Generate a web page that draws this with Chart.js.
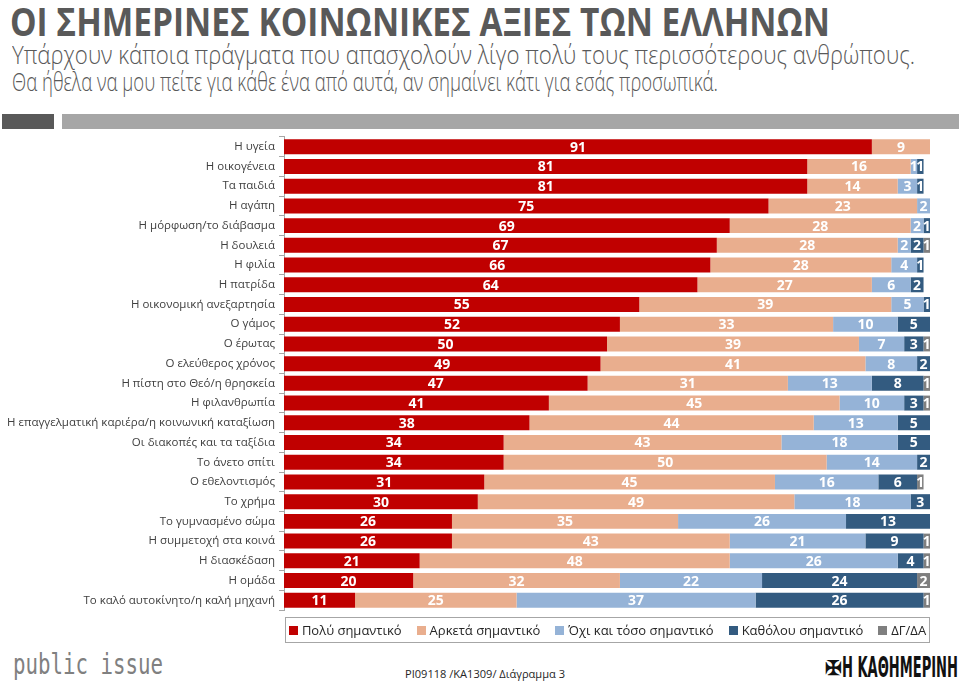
<!DOCTYPE html>
<html>
<head>
<meta charset="utf-8">
<script src="https://cdn.jsdelivr.net/npm/chart.js@4.4.0/dist/chart.umd.min.js"></script>
<style>
  html, body { margin:0; padding:0; }
  body { width:960px; height:684px; background:#fff; position:relative; overflow:hidden; font-family:"Open Sans", "Noto Sans", sans-serif; }
  .fit { position:absolute; white-space:nowrap; transform-origin:0 0; line-height:1; }
  #title { left:10px; top:1px; font-size:39px; font-weight:bold; color:#595959; }
  #sub1 { left:12px; top:41px; font-size:26px; font-weight:300; color:#595959; }
  #sub2 { left:12px; top:68px; font-size:26px; font-weight:300; color:#595959; }
  #barDark { position:absolute; left:2px; top:114px; width:52px; height:15px; background:#595959; }
  #barLight { position:absolute; left:62px; top:114px; width:897px; height:15px; background:#A6A6A6; }
  #chartWrap { position:absolute; left:0; top:125.5px; width:960px; height:495px; }
  #chartWrap canvas { display:block; }
  #legend { position:absolute; left:285px; top:617px; width:645px; height:26px; border:1px solid #A6A6A6; box-sizing:border-box;
            display:flex; align-items:center; justify-content:center; gap:15px; font-size:13px; color:#262626; }
  #legend .it { display:flex; align-items:center; white-space:nowrap; }
  #legend .sw { width:9px; height:9px; margin-right:4px; display:inline-block; }
  #pi { left:13px; top:651px; font-size:28px; color:#808080; font-family:"DejaVu Sans Mono","Liberation Mono",monospace; }
  #code { left:405px; top:668px; font-size:11.5px; color:#262626; }
  #kath { left:842px; top:654px; font-size:28px; color:#111; font-weight:bold; font-family:"Liberation Sans Narrow","DejaVu Sans Condensed","Liberation Sans",sans-serif; }
  #emb { position:absolute; left:825px; top:658px; font-size:20px; color:#111; line-height:1; font-weight:bold; }
</style>
</head>
<body>
<div id="title" class="fit" data-w="820">ΟΙ ΣΗΜΕΡΙΝΕΣ ΚΟΙΝΩΝΙΚΕΣ ΑΞΙΕΣ ΤΩΝ ΕΛΛΗΝΩΝ</div>
<div id="sub1" class="fit" data-w="903">Υπάρχουν κάποια πράγματα που απασχολούν λίγο πολύ τους περισσότερους ανθρώπους.</div>
<div id="sub2" class="fit" data-w="706">Θα ήθελα να μου πείτε για κάθε ένα από αυτά, αν σημαίνει κάτι για εσάς προσωπικά.</div>
<div id="barDark"></div>
<div id="barLight"></div>
<div id="chartWrap"><canvas id="c" width="960" height="495"></canvas></div>
<div id="legend"></div>
<div id="pi" class="fit" data-w="150">public issue</div>
<div id="code" class="fit" data-w="160">PI09118 /KA1309/ Διάγραμμα 3</div>
<div id="emb">✠</div>
<div id="kath" class="fit" data-w="116">Η ΚΑΘΗΜΕΡΙΝΗ</div>
<script>
const categories = [
  'Η υγεία','Η οικογένεια','Τα παιδιά','Η αγάπη','Η μόρφωση/το διάβασμα','Η δουλειά','Η φιλία','Η πατρίδα',
  'Η οικονομική ανεξαρτησία','Ο γάμος','Ο έρωτας','Ο ελεύθερος χρόνος','Η πίστη στο Θεό/η θρησκεία','Η φιλανθρωπία',
  'Η επαγγελματική καριέρα/η κοινωνική καταξίωση','Οι διακοπές και τα ταξίδια','Το άνετο σπίτι','Ο εθελοντισμός',
  'Το χρήμα','Το γυμνασμένο σώμα','Η συμμετοχή στα κοινά','Η διασκέδαση','Η ομάδα','Το καλό αυτοκίνητο/η καλή μηχανή'
];
const seriesNames = ['Πολύ σημαντικό','Αρκετά σημαντικό','Όχι και τόσο σημαντικό','Καθόλου σημαντικό','ΔΓ/ΔΑ'];
const veryImportant  = [91,81,81,75,69,67,66,64,55,52,50,49,47,41,38,34,34,31,30,26,26,21,20,11];
const quiteImportant = [ 9,16,14,23,28,28,28,27,39,33,39,41,31,45,44,43,50,45,49,35,43,48,32,25];
const notSoImportant = [ 0, 1, 3, 2, 2, 2, 4, 6, 5,10, 7, 8,13,10,13,18,14,16,18,26,21,26,22,37];
const notAtAll       = [ 0, 1, 1, 1, 1, 2, 1, 2, 1, 5, 3, 2, 8, 3, 5, 5, 2, 6, 3,13, 9, 4,24,26];
const dkna           = [ 0, 0, 0, 0, 0, 1, 0, 0, 0, 0, 1, 0, 1, 1, 0, 0, 0, 1, 0, 0, 1, 1, 2, 1];
const seriesColors = ['#C00000','#E9AE8E','#95B3D7','#335B80','#7F7F7F'];

const allSeries = [veryImportant, quiteImportant, notSoImportant, notAtAll, dkna];

// fit text widths
document.querySelectorAll('.fit').forEach(el => {
  const w = parseFloat(el.dataset.w);
  const a = el.getBoundingClientRect().width;
  if (a > 0) el.style.transform = 'scaleX(' + (w / a) + ')';
});

// legend
const lg = document.getElementById('legend');
seriesNames.forEach((n, i) => {
  const it = document.createElement('span'); it.className = 'it';
  const sw = document.createElement('span'); sw.className = 'sw'; sw.style.background = seriesColors[i];
  it.appendChild(sw); it.appendChild(document.createTextNode(n)); lg.appendChild(it);
});

const labelPlugin = {
  id: 'segLabels',
  afterDatasetsDraw(chart) {
    const ctx = chart.ctx;
    ctx.save();
    ctx.fillStyle = '#fff';
    ctx.font = 'bold 14px "Liberation Sans Narrow", "Open Sans", sans-serif';
    ctx.textAlign = 'center';
    ctx.textBaseline = 'middle';
    chart.data.datasets.forEach((ds, i) => {
      const meta = chart.getDatasetMeta(i);
      meta.data.forEach((bar, j) => {
        const v = ds.data[j];
        if (!v) return;
        const p = bar.getProps(['x', 'base', 'y'], true);
        ctx.fillText(String(v), (p.x + p.base) / 2, p.y + 1);
      });
    });
    ctx.restore();
  }
};

new Chart(document.getElementById('c'), {
  type: 'bar',
  data: {
    labels: categories,
    datasets: allSeries.map((d, i) => ({
      label: seriesNames[i], data: d, backgroundColor: seriesColors[i], borderWidth: 0,
      categoryPercentage: 1.0, barPercentage: 0.76
    }))
  },
  options: {
    indexAxis: 'y',
    responsive: false,
    devicePixelRatio: 1,
    animation: false,
    layout: { padding: { left: 0, right: 30, top: 6, bottom: 6 } },
    plugins: { legend: { display: false }, tooltip: { enabled: false } },
    scales: {
      x: { stacked: true, min: 0, max: 100, display: false },
      y: {
        stacked: true,
        grid: { display: true, drawOnChartArea: false, offset: true, tickLength: 5, color: '#A6A6A6' },
        border: { display: true, color: '#A6A6A6' },
        ticks: { color: '#404040', font: { size: 11.5, family: '"Open Sans", sans-serif' }, padding: 4, autoSkip: false },
        afterFit(s) { s.width = 284; }
      }
    }
  },
  plugins: [labelPlugin]
});
</script>
</body>
</html>
